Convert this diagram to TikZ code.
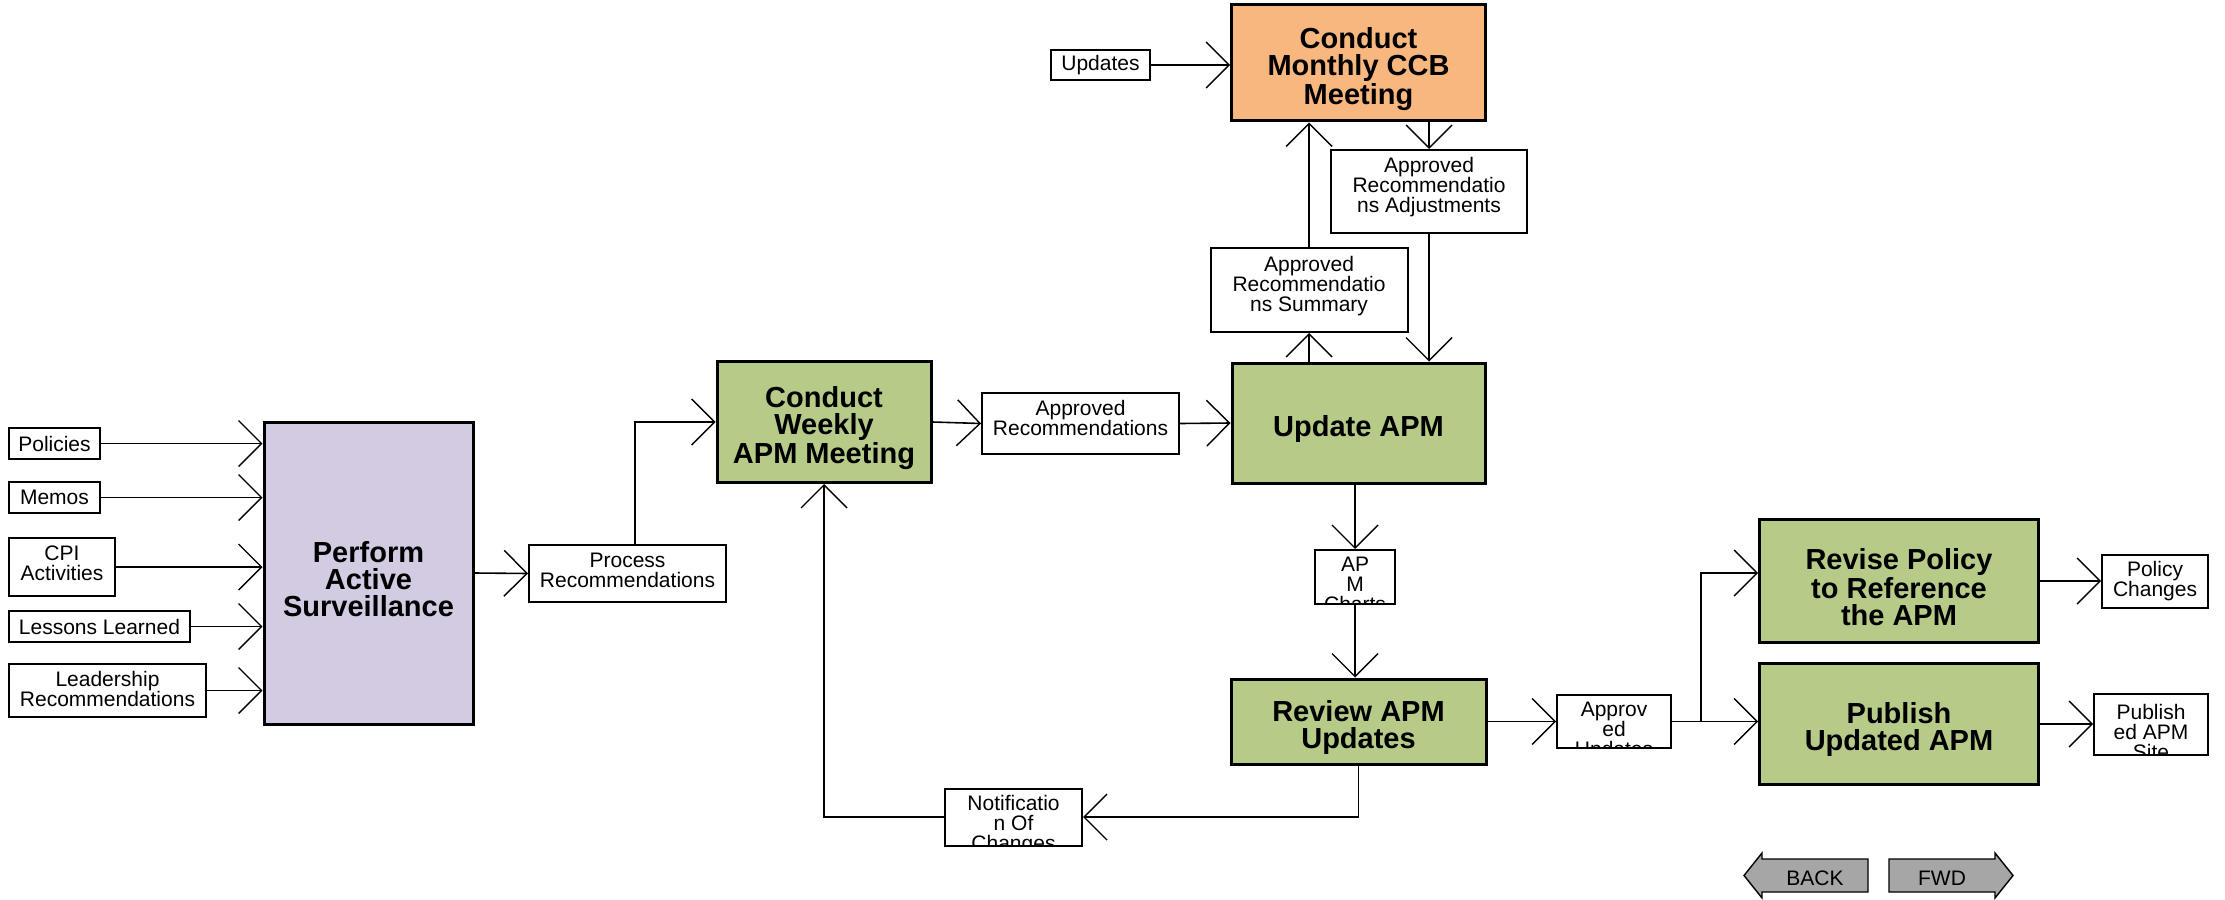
\documentclass[tikz,border=0pt]{standalone}
\usepackage{fontspec}
\setmainfont{Liberation Sans}
\usepackage{tikz}
\usetikzlibrary{arrows.meta, positioning, calc}
\definecolor{sagecolor}{HTML}{B7CB88}
\definecolor{lilaccolor}{HTML}{D2CBE1}
\definecolor{peachcolor}{HTML}{F9B780}
\definecolor{ashcolor}{HTML}{A6A6A6}
\newcommand{\itemfont}{\fontsize{10.5}{10}\selectfont}
\newcommand{\taskfont}{\fontsize{14.5}{13.5}\selectfont\bfseries}
\newcommand{\tallstrut}{\rule{0pt}{16.3pt}}

\begin{document}
\begin{tikzpicture}[x=0.5pt, y=-0.5pt,
  task/.style={draw, line width=1.5pt, inner sep=0pt, align=center, font=\taskfont},
  item/.style={draw, fill=white, line width=1pt, inner sep=0pt, align=center, font=\itemfont},
  lift/.style={execute at end node={\rule[-#1]{0pt}{#1}}},
  cut/.style={path picture={\node[anchor=north, inner sep=0pt, align=center, font=\itemfont]
      at ([yshift=-3pt]path picture bounding box.north) {#1};}},
  flow/.style={line width=0.8pt, -{Straight Barb[length=11.5pt, width=23pt, line width=0.7pt]}},
  navbtn/.style={draw, fill=ashcolor, line width=0.7pt}]
  \useasboundingbox (0,0) rectangle (2225,899);

  % main tasks
  \node[task, fill=lilaccolor, minimum width=104.5pt, minimum height=151pt] (pas) at (368.5,573) {\tallstrut Perform\\Active\\Surveillance};
  \node[task, fill=sagecolor, minimum width=107pt, minimum height=60.5pt] (cwm) at (824,422) {\tallstrut Conduct\\Weekly\\APM Meeting};
  \node[task, fill=sagecolor, minimum width=126.5pt, minimum height=60pt] (uapm) at (1358.5,423) {\tallstrut Update APM};
  \node[task, fill=peachcolor, minimum width=127pt, minimum height=58pt] (ccb) at (1358.5,63) {\tallstrut Conduct\\Monthly CCB\\Meeting};
  \node[task, fill=sagecolor, minimum width=127.5pt, minimum height=42.5pt] (rau) at (1358.5,721.5) {\tallstrut Review APM\\Updates};
  \node[task, fill=sagecolor, minimum width=139.5pt, minimum height=61.5pt] (rev) at (1899,581) {\tallstrut Revise Policy\\to Reference\\the APM};
  \node[task, fill=sagecolor, minimum width=139.5pt, minimum height=60.5pt] (pub) at (1899,724) {\tallstrut Publish\\Updated APM};

  % inputs
  \foreach \name/\txt/\w/\h/\y/\up in {
    pol/Policies/45.5/15.5/443.5/0pt, mem/Memos/45.5/15.5/497.5/0pt,
    cpi/{CPI\\Activities}/53/29/567/4.2pt, les/Lessons Learned/90.5/15.5/626.5/0pt,
    lead/{Leadership\\Recommendations}/98.5/26.5/690.5/1.4pt} {
    \node[item, lift=\up, anchor=west, minimum width=\w pt, minimum height=\h pt] (\name) at (8,\y) {\txt};
    \draw[flow] (\name.east) -- (\name.east -| pas.west);
  }

  % outputs
  \node[item, lift=2.8pt, minimum width=98.5pt, minimum height=28.5pt] (prec) at (627.5,573.5) {Process\\Recommendations};
  \node[item, lift=5.7pt, minimum width=98.5pt, minimum height=30.5pt] (arec) at (1080.5,423.5) {Approved\\Recommendations};
  \node[item, minimum width=49.5pt, minimum height=15pt] (upd) at (1100.5,65) {Updates};
  \node[item, lift=6.4pt, minimum width=98pt, minimum height=41.5pt] (ara) at (1429,191.5) {Approved\\Recommendatio\\ns Adjustments};
  \node[item, lift=6.4pt, minimum width=98.5pt, minimum height=42pt] (ars) at (1309,290) {Approved\\Recommendatio\\ns Summary};
  \node[item, cut={AP\\M\\Charts}, minimum width=40pt, minimum height=27pt] (charts) at (1355,577) {};
  \node[item, cut={Approv\\ed\\Updates}, minimum width=57pt, minimum height=26.5pt] (au) at (1614,721.5) {};
  \node[item, cut={Notificatio\\n Of\\Changes}, minimum width=68.5pt, minimum height=28.5pt] (note) at (1013.5,817) {};
  \node[item, minimum width=53pt, minimum height=26.5pt] (pc) at (2155,581.5) {Policy\\Changes};
  \node[item, cut={Publish\\ed APM\\Site}, minimum width=57pt, minimum height=30.5pt] (site) at (2151,724.5) {};

  % connectors
  \draw[flow] (pas.east) -- (prec.west);
  \draw[flow] ([xshift=3.75pt]prec.north) |- (cwm.west);
  \draw[flow] (cwm.east) -- (arec.west);
  \draw[flow] (arec.east) -- (uapm.west);
  \draw[flow] (upd.east) -- (upd.east -| ccb.west);
  \draw[flow] (ccb.south -| ara.north) -- (ara.north);
  \draw[flow] (ara.south) -- (ara.south |- uapm.north);
  \draw[flow] (uapm.north -| ars.south) -- (ars.south);
  \draw[flow] (ars.north) -- (ars.north |- ccb.south);
  \draw[flow] (uapm.south -| charts.north) -- (charts.north);
  \draw[flow] (charts.south) -- (charts.south |- rau.north);
  \draw[flow] (rau.east) -- (au.west);
  \coordinate (fork) at (1701,721.5);
  \draw[flow] (au.east) -- (au.east -| pub.west);
  \draw[flow] (fork) |- ([yshift=4pt]rev.west);
  \draw[flow] (rev.east) -- (rev.east -| pc.west);
  \draw[flow] (pub.east) -- (pub.east -| site.west);
  \draw[flow] (rau.south) |- (note.east);
  \draw[flow] (note.west) -| (cwm.south);

  % navigation
  \draw[navbtn] (1868,859) -- (1762,859) -- (1762,853) -- (1744,875.5) -- (1762,898) -- (1762,892) -- (1868,892) -- cycle;
  \node[font=\itemfont] (back) at (1815,878.5) {BACK};
  \draw[navbtn] (1889,859) -- (1995,859) -- (1995,853) -- (2013,875.5) -- (1995,898) -- (1995,892) -- (1889,892) -- cycle;
  \node[font=\itemfont] (fwd) at (1942,878.5) {FWD};
\end{tikzpicture}
\end{document}
